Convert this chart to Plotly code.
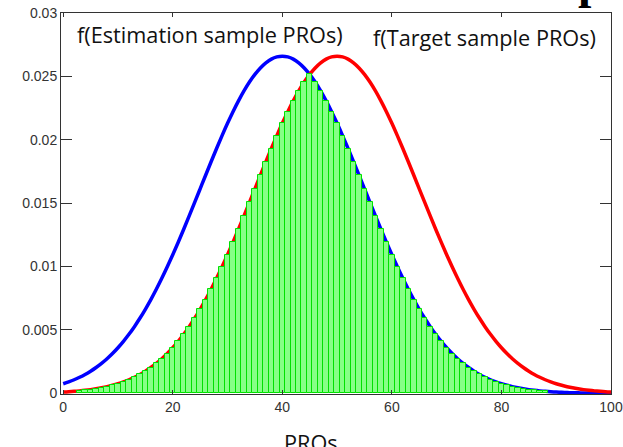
import plotly.graph_objects as go

# PRO score grid
PROS = list(range(101))

# f(Estimation sample PROs) at each PRO score
ESTIMATION = [0.00076, 0.000906, 0.001075, 0.00127, 0.001493, 0.001748, 0.002038, 0.002365, 0.002732, 0.003143,
              0.003599, 0.004104, 0.004658, 0.005263, 0.005921, 0.006632, 0.007395, 0.008209, 0.009072, 0.009982,
              0.010934, 0.011924, 0.012946, 0.013993, 0.015057, 0.016131, 0.017205, 0.018269, 0.019313, 0.020326,
              0.021297, 0.022215, 0.02307, 0.023852, 0.024551, 0.025159, 0.025667, 0.026069, 0.026361, 0.026537,
              0.026596,
              0.026537, 0.026361, 0.026069, 0.025667, 0.025159, 0.024551, 0.023852, 0.02307, 0.022215, 0.021297,
              0.020326, 0.019313, 0.018269, 0.017205, 0.016131, 0.015057, 0.013993, 0.012946, 0.011924, 0.010934,
              0.009982, 0.009072, 0.008209, 0.007395, 0.006632, 0.005921, 0.005263, 0.004658, 0.004104, 0.003599,
              0.003143, 0.002732, 0.002365, 0.002038, 0.001748, 0.001493, 0.00127, 0.001075, 0.000906, 0.00076,
              0.000635, 0.000528, 0.000437, 0.00036, 0.000295, 0.000241, 0.000196, 0.000159, 0.000128, 0.000103,
              0.000082, 0.000065, 0.000052, 0.000041, 0.000032, 0.000025, 0.000019, 0.000015, 0.000012, 0.000009]

# f(Target sample PROs) at each PRO score
TARGET = [0.000103, 0.000128, 0.000159, 0.000196, 0.000241, 0.000295, 0.00036, 0.000437, 0.000528, 0.000635,
          0.00076, 0.000906, 0.001075, 0.00127, 0.001493, 0.001748, 0.002038, 0.002365, 0.002732, 0.003143,
          0.003599, 0.004104, 0.004658, 0.005263, 0.005921, 0.006632, 0.007395, 0.008209, 0.009072, 0.009982,
          0.010934, 0.011924, 0.012946, 0.013993, 0.015057, 0.016131, 0.017205, 0.018269, 0.019313, 0.020326,
          0.021297, 0.022215, 0.02307, 0.023852, 0.024551, 0.025159, 0.025667, 0.026069, 0.026361, 0.026537,
          0.026596,
          0.026537, 0.026361, 0.026069, 0.025667, 0.025159, 0.024551, 0.023852, 0.02307, 0.022215, 0.021297,
          0.020326, 0.019313, 0.018269, 0.017205, 0.016131, 0.015057, 0.013993, 0.012946, 0.011924, 0.010934,
          0.009982, 0.009072, 0.008209, 0.007395, 0.006632, 0.005921, 0.005263, 0.004658, 0.004104, 0.003599,
          0.003143, 0.002732, 0.002365, 0.002038, 0.001748, 0.001493, 0.00127, 0.001075, 0.000906, 0.00076,
          0.000635, 0.000528, 0.000437, 0.00036, 0.000295, 0.000241, 0.000196, 0.000159, 0.000128, 0.000103]

# range of PRO scores with overlap bars drawn
BAR_FIRST = 3
BAR_LAST = 88

X_TICKS = [0, 20, 40, 60, 80, 100]
Y_TICKS = [0, 0.005, 0.01, 0.015, 0.02, 0.025, 0.03]
Y_TICK_TEXT = ["0", "0.005", "0.01", "0.015", "0.02", "0.025", "0.03"]

bar_x = [p for p in PROS if BAR_FIRST <= p <= BAR_LAST]
bar_y = [min(ESTIMATION[p], TARGET[p]) for p in bar_x]

fig = go.Figure()
fig.add_trace(go.Scatter(x=PROS, y=ESTIMATION, mode="lines",
                         line=dict(color="#0000ff", width=3.5, shape="spline"),
                         xaxis="x", yaxis="y", showlegend=False, hoverinfo="skip"))
fig.add_trace(go.Scatter(x=PROS, y=TARGET, mode="lines",
                         line=dict(color="#ff0000", width=3.5, shape="spline"),
                         xaxis="x", yaxis="y", showlegend=False, hoverinfo="skip"))
fig.add_trace(go.Bar(x=bar_x, y=bar_y, width=1,
                     marker=dict(color="#86ff86", line=dict(color="#00e000", width=1)),
                     xaxis="x2", yaxis="y2", showlegend=False, hoverinfo="skip"))

axis_common = dict(showgrid=False, zeroline=False, automargin=False)
xr = [-0.4, 100]
yr = [-0.00005, 0.03]
tickfont = dict(family="Liberation Sans, Arial", size=14, color="#333333")
label_font = dict(family="Open Sans", size=21.7, color="#111111")

fig.update_layout(
    width=623, height=447, autosize=False,
    margin=dict(l=61, r=12, t=13, b=53),
    paper_bgcolor="white", plot_bgcolor="white",
    xaxis=dict(range=xr, tickvals=X_TICKS, ticks="inside", ticklen=4, tickcolor="#333333",
               showline=True, linecolor="#333333", linewidth=1, mirror="ticks",
               tickfont=tickfont, **axis_common),
    yaxis=dict(range=yr, tickvals=Y_TICKS, ticktext=Y_TICK_TEXT, ticks="inside", ticklen=11,
               tickcolor="#333333", showline=True, linecolor="#333333", linewidth=1, mirror="ticks",
               tickfont=tickfont, **axis_common),
    xaxis2=dict(range=xr, overlaying="x", visible=False, **axis_common),
    yaxis2=dict(range=yr, overlaying="y", visible=False, **axis_common),
    bargap=0,
    annotations=[
        dict(text="f(Estimation sample PROs)", x=0.026, y=0.0283, xref="paper", yref="y",
             xanchor="left", yanchor="middle", showarrow=False, font=label_font),
        dict(text="f(Target sample PROs)", x=0.563, y=0.0281, xref="paper", yref="y",
             xanchor="left", yanchor="middle", showarrow=False, font=label_font),
        dict(text="PROs", x=0.455, y=-0.085, xref="paper", yref="paper",
             xanchor="center", yanchor="top", showarrow=False, font=label_font),
        dict(text="<b>p</b>", x=0.965, y=1.082, xref="paper", yref="paper",
             xanchor="center", yanchor="middle", showarrow=False,
             font=dict(family="Liberation Serif", size=48, color="#000000")),
    ],
)

fig.write_html("out.html", config={"displayModeBar": False, "responsive": False},
               post_script="document.body.style.margin='0';document.body.style.overflow='hidden';")
